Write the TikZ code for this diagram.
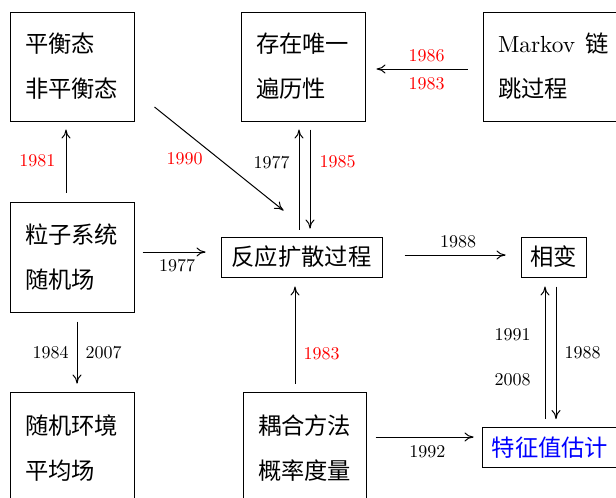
\documentclass[tikz,border=0pt]{standalone}
\usepackage{fontspec}
\setmainfont{lmroman10-regular.otf}
\newfontfamily\cjk{Noto Sans CJK SC}
\usetikzlibrary{calc,arrows.meta}
\begin{document}
\begin{tikzpicture}[x=1pt,y=-1pt,
  box/.style={draw,line width=1pt,inner sep=0pt,font=\cjk\fontsize{23.3}{45}\selectfont},
  big/.style={box,minimum width=124pt,minimum height=109pt,align=left,text width=94pt},
  small/.style={box,minimum height=40pt},
  yr/.style={font=\fontsize{18}{20}\selectfont,inner sep=0pt},
  arr/.style={-{To[length=9pt,width=9pt]},line width=1pt}]
\useasboundingbox (0,0) rectangle (616,498);
% boxes
\node[big] (A) at (72,66.5) {平衡态\\非平衡态};
\node[big] (B) at (303,66.5) {存在唯一\\遍历性};
\node[big,minimum width=150pt,text width=120pt] (C) at (558,66.5) {{\rmfamily Markov}\hspace{10pt}链\\跳过程};
\node[big,minimum height=110pt] (D) at (72,257) {粒子系统\\随机场};
\node[small,minimum width=161pt] (E) at (301.5,257) {反应扩散过程};
\node[small,minimum width=65pt] (F) at (553.5,257) {相变};
\node[big,minimum height=113pt] (G) at (72,448.5) {随机环境\\平均场};
\node[big,minimum width=123pt,text width=93pt,minimum height=113pt] (H) at (304.5,448.5) {耦合方法\\概率度量};
\node[small,minimum width=136pt,text=blue] (I) at (550,447.5) {特征值估计};
% connectors
\draw[arr] ($(D.north)+(-6,-9)$) -- node[yr,left=10pt,text=red]{1981} ($(A.south)+(-6,8)$);
\draw[arr] ($(A.east)+(20,40.5)$) -- node[yr,left=16pt,text=red]{1990} ($(E.north west)+(63,-26)$);
\draw[arr] ($(E.north)+(-2.5,-7)$) -- node[yr,pos=0.67,left=9pt]{1977} ($(B.south)+(-4,8)$);
\draw[arr] ($(B.south)+(7,8)$) -- node[yr,pos=0.33,right=9pt,text=red]{1985} ($(E.north)+(8.5,-8)$);
\draw[arr] ($(C.west)+(-15,2.5)$) -- node[yr,pos=0.45,above=7pt,text=red]{1986} node[yr,pos=0.45,below=8pt,text=red]{1983} ($(B.east)+(11,2.5)$);
\draw[arr] ($(D.east)+(8,-5)$) -- node[yr,pos=0.55,below=7pt]{1977} ($(E.west)+(-15,-5)$);
\draw[arr] ($(E.east)+(22,-2)$) -- node[yr,pos=0.53,above=7pt]{1988} ($(F.west)+(-15,-2)$);
\draw[arr] ($(D.south)+(5,9)$) -- node[yr,left=8pt]{1984} node[yr,right=8pt]{2007} ($(G.north)+(5,-8)$);
\draw[arr] ($(H.north)+(-9.5,-8)$) -- node[yr,pos=0.31,right=8pt,text=red]{1983} ($(E.south)+(-6.5,9)$);
\draw[arr] ($(I.north)+(-5,-8)$) -- node[yr,pos=0.64,left=14pt]{1991} node[yr,pos=0.30,left=14pt]{2008} ($(F.south)+(-8.5,9)$);
\draw[arr] ($(F.south)+(2.5,9)$) -- node[yr,right=8pt]{1988} ($(I.north)+(6,-8)$);
\draw[arr] ($(H.east)+(9,-11.5)$) -- node[yr,pos=0.53,below=8pt]{1992} ($(I.west)+(-8,-10.5)$);
\end{tikzpicture}
\end{document}
